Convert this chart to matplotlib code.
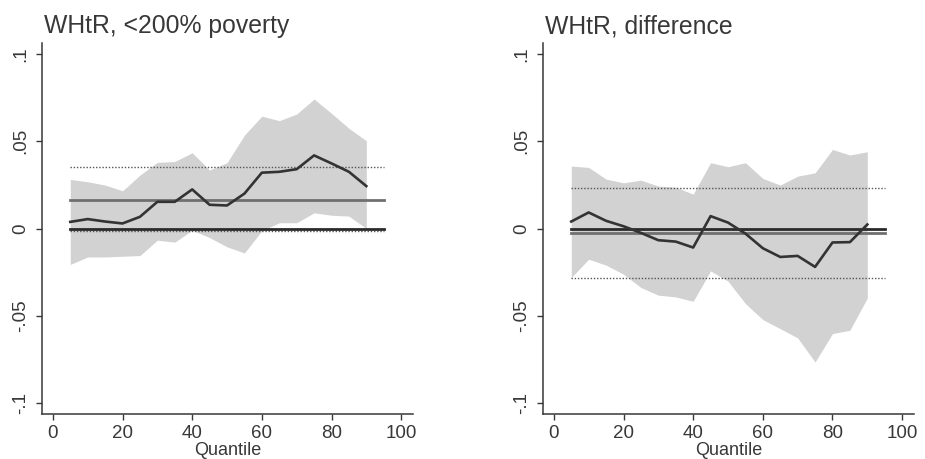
import matplotlib
matplotlib.use("Agg")
import matplotlib.pyplot as plt
import numpy as np

plt.rcParams['font.family'] = ['Liberation Sans', 'DejaVu Sans']

quantiles = [5, 10, 15, 20, 25, 30, 35, 40, 45, 50, 55, 60, 65, 70, 75, 80, 85, 90]

# left panel: <200% poverty
pov_est = [0.0038, 0.0054, 0.0040, 0.0029, 0.0067, 0.0153, 0.0153, 0.0224, 0.0136,
           0.0132, 0.0200, 0.0320, 0.0325, 0.0340, 0.0419, 0.0373, 0.0325, 0.0243]
pov_hi = [0.0281, 0.0268, 0.0249, 0.0216, 0.0306, 0.0379, 0.0384, 0.0434, 0.0335,
          0.0377, 0.0535, 0.0644, 0.0618, 0.0656, 0.0742, 0.0660, 0.0574, 0.0503]
pov_lo = [-0.0206, -0.0163, -0.0163, -0.0159, -0.0155, -0.0067, -0.0078, -0.0010, -0.0052,
          -0.0105, -0.0140, -0.0013, 0.0033, 0.0033, 0.0090, 0.0076, 0.0071, 0.0000]
pov_ols = 0.0166
pov_ols_ci = [-0.0015, 0.0350]

# right panel: difference
diff_est = [0.0040, 0.0092, 0.0044, 0.0013, -0.0025, -0.0067, -0.0075, -0.0109, 0.0071,
            0.0034, -0.0029, -0.0113, -0.0163, -0.0157, -0.0220, -0.0080, -0.0078, 0.0023]
diff_hi = [0.0358, 0.0350, 0.0283, 0.0262, 0.0277, 0.0243, 0.0237, 0.0197, 0.0377,
           0.0354, 0.0377, 0.0287, 0.0249, 0.0300, 0.0319, 0.0453, 0.0421, 0.0440]
diff_lo = [-0.0281, -0.0176, -0.0210, -0.0262, -0.0338, -0.0382, -0.0392, -0.0417, -0.0243,
           -0.0302, -0.0430, -0.0522, -0.0574, -0.0627, -0.0765, -0.0602, -0.0583, -0.0398]
diff_ols = -0.0023
diff_ols_ci = [-0.0281, 0.0235]

titles = ['WHtR, <200% poverty', 'WHtR, difference']
x_ticks = [0, 20, 40, 60, 80, 100]
y_ticks = [-0.1, -0.05, 0, 0.05, 0.1]
y_labels = ['-.1', '-.05', '0', '.05', '.1']
hline_span = [5, 95]

text_col = '#383838'

fig = plt.figure(figsize=(9.25, 4.59), dpi=100)
panels = [
    (pov_est, pov_lo, pov_hi, pov_ols, pov_ols_ci),
    (diff_est, diff_lo, diff_hi, diff_ols, diff_ols_ci),
]
lefts = [0.0451, 0.5867]

for i, (est, lo, hi, ols, ci) in enumerate(panels):
    ax = fig.add_axes([lefts[i], 0.098, 0.4014, 0.8083])
    ax.fill_between(quantiles, lo, hi, color='#d2d2d2', linewidth=0, zorder=1)
    for c in ci:
        ax.plot(hline_span, [c, c], color='#555555', linestyle=(0, (1, 1.3)), linewidth=1.0, zorder=2)
    ax.plot(hline_span, [ols, ols], color='#707070', linewidth=2.0, zorder=3)
    ax.plot(hline_span, [0, 0], color='#2a2a2a', linewidth=2.0, zorder=3)
    ax.plot(quantiles, est, color='#333333', linewidth=1.9, zorder=4)

    ax.set_xlim(-3.2, 103.4)
    ax.set_ylim(-0.1063, 0.1063)
    ax.set_xticks(x_ticks)
    ax.set_yticks(y_ticks)
    ax.set_yticklabels(y_labels, rotation=90, va='center')
    ax.tick_params(axis='both', direction='out', length=4, width=1.0, colors=text_col,
                   labelsize=13.5, labelcolor=text_col)
    ax.tick_params(axis='y', pad=5)
    ax.tick_params(axis='x', pad=4)
    for s in ['top', 'right']:
        ax.spines[s].set_visible(False)
    for s in ['left', 'bottom']:
        ax.spines[s].set_color(text_col)
        ax.spines[s].set_linewidth(1.1)
    ax.set_xlabel('Quantile', fontsize=13, color=text_col, labelpad=0)
    fig.text(lefts[i] + 0.003, 0.928, titles[i], fontsize=17.8, color=text_col, ha='left', va='baseline')

fig.savefig('out.png', dpi=100)
